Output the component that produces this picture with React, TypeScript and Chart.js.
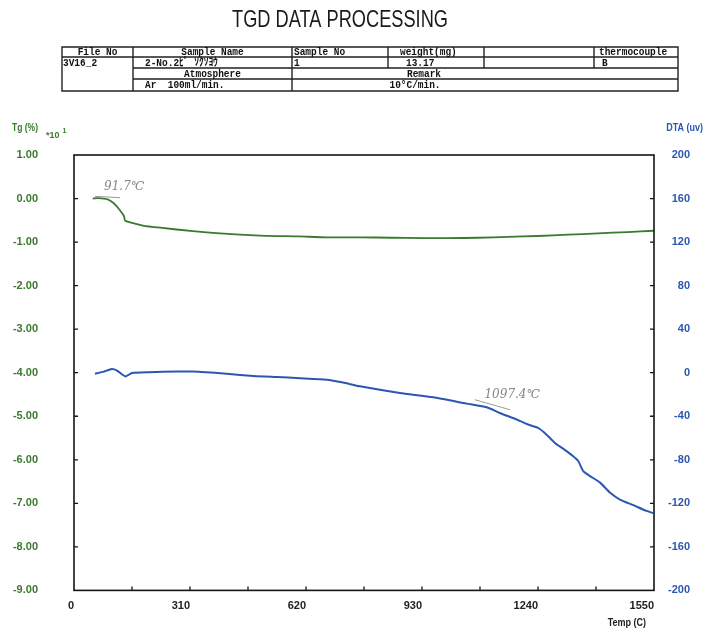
import React, { useEffect, useRef } from "react";
import { Chart, registerables } from "chart.js";

Chart.register(...registerables);

// ---------------- data ----------------
const chartTitle = "TGD DATA PROCESSING";
const tableHeader = ["File No", "Sample Name", "Sample No", "weight(mg)", "", "thermocouple"];
const tableValues = ["3V16_2", "2-No.2ﾋﾟ ｿｸｿﾖｳ", "1", "13.17", "", "B"];
const atmosphereLabel = "Atmosphere";
const atmosphereValue = "Ar  100ml/min.";
const remarkLabel = "Remark";
const remarkValue = "10°C/min.";

const tgAxisTitle = "Tg (%)";
const tgAxisFactor = "*10";
const tgAxisExponent = "1";
const dtaAxisTitle = "DTA (uv)";
const tempAxisTitle = "Temp (C)";

const tgTemps = [50, 65, 80, 90, 100, 110, 120, 128, 134, 136, 150, 184, 230, 318, 390, 497, 600, 676, 764, 850, 930, 1000, 1080, 1160, 1240, 1320, 1400, 1480, 1550];
const tgValues = [0.0, 0.01, 0.0, -0.02, -0.07, -0.14, -0.24, -0.33, -0.41, -0.5, -0.55, -0.62, -0.67, -0.75, -0.8, -0.85, -0.87, -0.89, -0.89, -0.9, -0.91, -0.91, -0.9, -0.88, -0.86, -0.83, -0.8, -0.77, -0.74];

const dtaTemps = [56, 80, 101, 115, 128, 138, 155, 200, 275, 318, 408, 480, 542, 604, 676, 719, 764, 871, 960, 1049, 1103, 1138, 1183, 1219, 1241, 1263, 1285, 1308, 1334, 1348, 1361, 1379, 1406, 1432, 1459, 1495, 1530, 1548];
const dtaValues = [-1, 1, 3.4, 2, -1.5, -3.4, -0.3, 0.5, 1, 1, -1, -3, -4, -5, -6.4, -9, -12.5, -18.6, -22.6, -28.4, -31.8, -37, -43, -48.3, -50.8, -56.9, -64.5, -70, -76.8, -81.4, -90.5, -95, -101, -110, -116.5, -121.7, -127, -129];

const xMin = 0, xMax = 1550, xStep = 155, xLabelStep = 310;
const tgMin = -9, tgMax = 1, tgStep = 1;
const dtaMin = -200, dtaMax = 200, dtaStep = 40;

// annotations (hand-written marks)
const tgNoteText = "91.7℃";
const tgNoteTemp = 134;
const tgNoteValue = 0.27;
const tgNoteLineTemps = [56, 123];
const tgNoteLineValues = [0.05, 0.02];

const dtaNoteText = "1097.4℃";
const dtaNoteTemp = 1171;
const dtaNoteValue = -20;
const dtaNoteLineTemps = [1071, 1165];
const dtaNoteLineValues = [-24.8, -34];

// ---------------- styles ----------------
const GREEN = "#3a7a2e";
const BLUE = "#2b57b3";
const LABEL_FONT = '"Liberation Sans", Arial, sans-serif';
const MONO_FONT = '"Liberation Mono", "DejaVu Sans Mono", monospace';

function squeezeText(ctx: CanvasRenderingContext2D, text: string, x: number, y: number, sx: number) {
  ctx.save();
  ctx.translate(x, y);
  ctx.scale(sx, 1);
  ctx.fillText(text, 0, 0);
  ctx.restore();
}

const decorPlugin = {
  id: "decor",
  afterDraw(chart: any) {
    const ctx: CanvasRenderingContext2D = chart.ctx;
    const { left, right, top, bottom } = chart.chartArea;
    const sx = chart.scales.x;
    const sl = chart.scales.yTg;
    const sr = chart.scales.yDTA;
    ctx.save();

    // frame
    ctx.strokeStyle = "#151515";
    ctx.lineWidth = 1.6;
    ctx.strokeRect(left, top, right - left, bottom - top);
    ctx.lineWidth = 1.3;
    ctx.beginPath();
    sx.ticks.forEach((t: any) => {
      const p = sx.getPixelForValue(t.value);
      if (p > left + 2 && p < right - 2) { ctx.moveTo(p, bottom); ctx.lineTo(p, bottom - 4); }
    });
    sl.ticks.forEach((t: any) => {
      const p = sl.getPixelForValue(t.value);
      if (p > top + 2 && p < bottom - 2) { ctx.moveTo(left, p); ctx.lineTo(left + 4, p); }
    });
    sr.ticks.forEach((t: any) => {
      const p = sr.getPixelForValue(t.value);
      if (p > top + 2 && p < bottom - 2) { ctx.moveTo(right, p); ctx.lineTo(right - 4, p); }
    });
    ctx.stroke();

    // annotation marks
    ctx.strokeStyle = "#9a9a9a";
    ctx.lineWidth = 1;
    ctx.beginPath();
    ctx.moveTo(sx.getPixelForValue(tgNoteLineTemps[0]), sl.getPixelForValue(tgNoteLineValues[0]));
    ctx.lineTo(sx.getPixelForValue(tgNoteLineTemps[1]), sl.getPixelForValue(tgNoteLineValues[1]));
    ctx.moveTo(sx.getPixelForValue(dtaNoteLineTemps[0]), sr.getPixelForValue(dtaNoteLineValues[0]));
    ctx.lineTo(sx.getPixelForValue(dtaNoteLineTemps[1]), sr.getPixelForValue(dtaNoteLineValues[1]));
    ctx.stroke();
    ctx.fillStyle = "#858585";
    ctx.font = 'italic 12px "DejaVu Serif", serif';
    ctx.textAlign = "center";
    ctx.textBaseline = "middle";
    ctx.fillText(tgNoteText, sx.getPixelForValue(tgNoteTemp), sl.getPixelForValue(tgNoteValue));
    ctx.fillText(dtaNoteText, sx.getPixelForValue(dtaNoteTemp), sr.getPixelForValue(dtaNoteValue));

    // axis titles
    ctx.textBaseline = "middle";
    ctx.font = `bold 10px ${LABEL_FONT}`;
    ctx.fillStyle = GREEN;
    ctx.textAlign = "left";
    squeezeText(ctx, tgAxisTitle, 12, 128, 0.85);
    ctx.font = `bold 9px ${LABEL_FONT}`;
    ctx.fillText(tgAxisFactor, 46, 136);
    const fw = ctx.measureText(tgAxisFactor).width;
    ctx.font = `bold 7px ${LABEL_FONT}`;
    ctx.fillText(tgAxisExponent, 46 + fw + 3, 131);
    ctx.font = `bold 10px ${LABEL_FONT}`;
    ctx.fillStyle = BLUE;
    ctx.textAlign = "right";
    squeezeText(ctx, dtaAxisTitle, 703, 128, 0.9);
    ctx.fillStyle = "#222";
    squeezeText(ctx, tempAxisTitle, 646, 623, 0.9);

    // title
    ctx.fillStyle = "#1a1a1a";
    ctx.font = `normal 19px ${LABEL_FONT}`;
    ctx.textAlign = "left";
    ctx.textBaseline = "middle";
    const tw = ctx.measureText(chartTitle).width;
    const targetW = 216;
    ctx.save();
    ctx.translate(232, 21);
    ctx.scale(targetW / tw, 1.22);
    ctx.fillText(chartTitle, 0, 0);
    ctx.restore();

    // table
    const cols = [62, 133, 292, 388, 484, 594, 678];
    const rows = [47, 57, 68, 79, 91];
    ctx.strokeStyle = "#222";
    ctx.lineWidth = 1.4;
    ctx.beginPath();
    ctx.rect(cols[0], rows[0], cols[6] - cols[0], rows[4] - rows[0]);
    ctx.moveTo(cols[0], rows[1]); ctx.lineTo(cols[6], rows[1]);
    ctx.moveTo(cols[1], rows[2]); ctx.lineTo(cols[6], rows[2]);
    ctx.moveTo(cols[1], rows[3]); ctx.lineTo(cols[6], rows[3]);
    ctx.moveTo(cols[1], rows[0]); ctx.lineTo(cols[1], rows[4]);
    ctx.moveTo(cols[2], rows[0]); ctx.lineTo(cols[2], rows[4]);
    for (let i = 3; i <= 5; i++) { ctx.moveTo(cols[i], rows[0]); ctx.lineTo(cols[i], rows[2]); }
    ctx.stroke();

    ctx.fillStyle = "#111";
    ctx.font = `bold 11px ${MONO_FONT}`;
    ctx.textBaseline = "middle";
    const sq = 0.86;
    const hy = (rows[0] + rows[1]) / 2 + 0.5;
    const vy = (rows[1] + rows[2]) / 2 + 0.5;
    const ay = (rows[2] + rows[3]) / 2 + 0.5;
    const ry = (rows[3] + rows[4]) / 2;
    ctx.textAlign = "center";
    squeezeText(ctx, tableHeader[0], (cols[0] + cols[1]) / 2, hy, sq);
    squeezeText(ctx, tableHeader[1], (cols[1] + cols[2]) / 2, hy, sq);
    ctx.textAlign = "left";
    squeezeText(ctx, tableHeader[2], cols[2] + 2, hy, sq);
    squeezeText(ctx, tableHeader[3], cols[3] + 12, hy, sq);
    squeezeText(ctx, tableHeader[4], cols[4] + 2, hy, sq);
    squeezeText(ctx, tableHeader[5], cols[5] + 5, hy, sq);

    squeezeText(ctx, tableValues[0], cols[0] + 1, vy, sq);
    ctx.font = `bold 11px ${MONO_FONT}, "Noto Sans CJK JP"`;
    squeezeText(ctx, tableValues[1], cols[1] + 12, vy, sq);
    ctx.font = `bold 11px ${MONO_FONT}`;
    squeezeText(ctx, tableValues[2], cols[2] + 2, vy, sq);
    squeezeText(ctx, tableValues[3], cols[3] + 18, vy, sq);
    squeezeText(ctx, tableValues[4], cols[4] + 2, vy, sq);
    squeezeText(ctx, tableValues[5], cols[5] + 8, vy, sq);

    ctx.textAlign = "center";
    squeezeText(ctx, atmosphereLabel, (cols[1] + cols[2]) / 2, ay, sq);
    squeezeText(ctx, remarkLabel, 424, ay, sq);
    ctx.textAlign = "left";
    squeezeText(ctx, atmosphereValue, cols[1] + 12, ry, sq);
    ctx.textAlign = "center";
    squeezeText(ctx, remarkValue, 415, ry, sq);

    ctx.restore();
  },
};

export default function App() {
  const canvasRef = useRef<HTMLCanvasElement | null>(null);

  useEffect(() => {
    if (!canvasRef.current) return;
    const tgData = tgTemps.map((t, i) => ({ x: t, y: tgValues[i] }));
    const dtaData = dtaTemps.map((t, i) => ({ x: t, y: dtaValues[i] }));

    const chart = new Chart(canvasRef.current, {
      type: "line",
      data: {
        datasets: [
          {
            label: "Tg",
            data: tgData,
            yAxisID: "yTg",
            borderColor: GREEN,
            borderWidth: 1.8,
            pointRadius: 0,
            tension: 0.2,
            fill: false,
          },
          {
            label: "DTA",
            data: dtaData,
            yAxisID: "yDTA",
            borderColor: BLUE,
            borderWidth: 2,
            pointRadius: 0,
            tension: 0.2,
            fill: false,
          },
        ],
      },
      options: {
        responsive: false,
        animation: false,
        devicePixelRatio: 1,
        layout: { padding: { top: 155, left: 0, right: 13, bottom: 0 } },
        plugins: {
          legend: { display: false },
          tooltip: { enabled: false },
          title: { display: false },
        },
        scales: {
          x: {
            type: "linear",
            min: xMin,
            max: xMax,
            grid: { display: false, drawTicks: false },
            border: { display: false },
            ticks: {
              stepSize: xStep,
              autoSkip: false,
              maxRotation: 0,
              align: "end",
              padding: 9,
              color: "#222",
              font: { family: LABEL_FONT, size: 11, weight: "bold" },
              callback: (v: any) => (Number(v) % xLabelStep === 0 ? String(v) : ""),
            },
            afterFit: (s: any) => { s.height = 42; },
          },
          yTg: {
            type: "linear",
            position: "left",
            min: tgMin,
            max: tgMax,
            grid: { display: false, drawTicks: false },
            border: { display: false },
            ticks: {
              stepSize: tgStep,
              padding: 36,
              color: GREEN,
              font: { family: LABEL_FONT, size: 11, weight: "bold" },
              callback: (v: any) => Number(v).toFixed(2),
            },
            afterFit: (s: any) => { s.width = 74; },
          },
          yDTA: {
            type: "linear",
            position: "right",
            min: dtaMin,
            max: dtaMax,
            grid: { display: false, drawTicks: false },
            border: { display: false },
            ticks: {
              stepSize: dtaStep,
              padding: 12,
              crossAlign: "far",
              color: BLUE,
              font: { family: LABEL_FONT, size: 11, weight: "bold" },
              callback: (v: any) => String(v),
            },
            afterFit: (s: any) => { s.width = 36; },
          },
        },
      },
      plugins: [decorPlugin],
    } as any);

    return () => chart.destroy();
  }, []);

  return (
    <div style={{ position: "absolute", left: 0, top: 0, width: 703, height: 633, background: "#fff" }}>
      <canvas ref={canvasRef} width={703} height={633} style={{ width: 703, height: 633, display: "block" }} />
    </div>
  );
}
